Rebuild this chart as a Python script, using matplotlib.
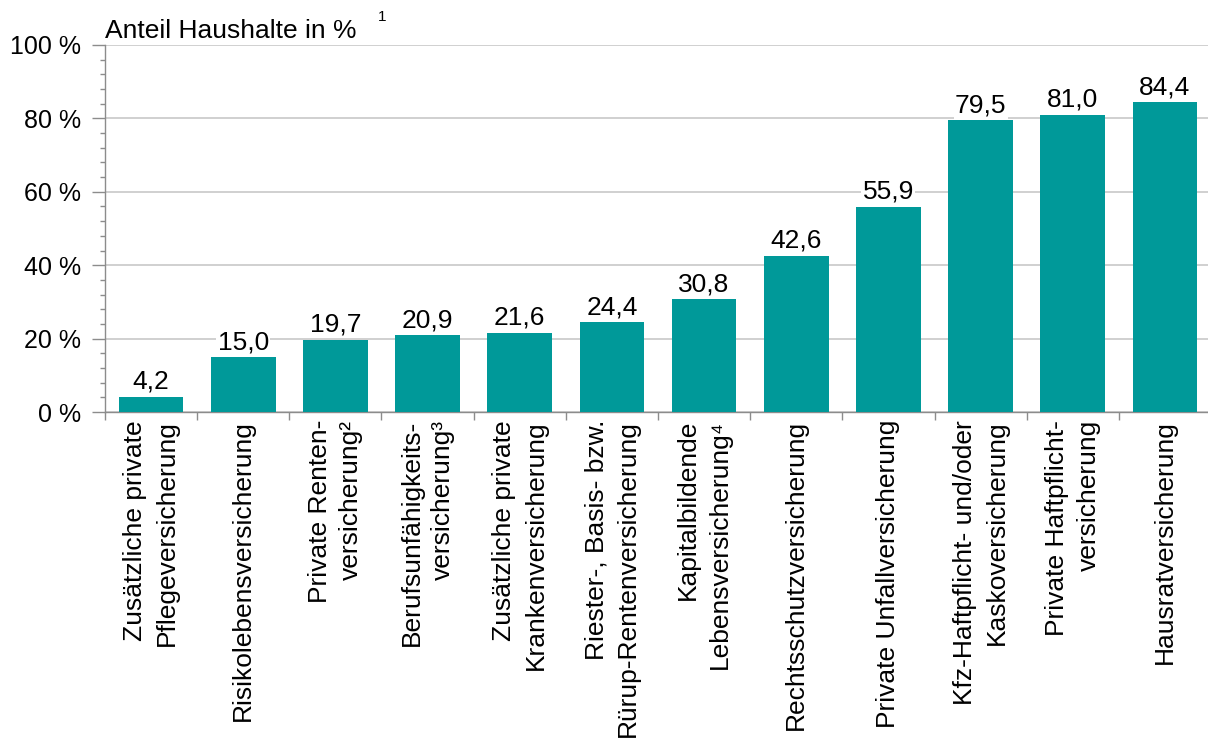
import matplotlib
matplotlib.use("Agg")
import matplotlib.pyplot as plt
from matplotlib.ticker import MultipleLocator, FuncFormatter

plt.rcParams['font.family'] = ['Liberation Sans', 'DejaVu Sans']

categories = [
    "Zusätzliche private\nPflegeversicherung",
    "Risikolebensversicherung",
    "Private Renten-\nversicherung²",
    "Berufsunfähigkeits-\nversicherung³",
    "Zusätzliche private\nKrankenversicherung",
    "Riester-, Basis- bzw.\nRürup-Rentenversicherung",
    "Kapitalbildende\nLebensversicherung⁴",
    "Rechtsschutzversicherung",
    "Private Unfallversicherung",
    "Kfz-Haftpflicht- und/oder\nKaskoversicherung",
    "Private Haftpflicht-\nversicherung",
    "Hausratversicherung",
]
values = [4.2, 15.0, 19.7, 20.9, 21.6, 24.4, 30.8, 42.6, 55.9, 79.5, 81.0, 84.4]
yticks = [0, 20, 40, 60, 80, 100]

BAR = '#009999'
GRID = '#c8c8c8'
AX = '#8c8c8c'
FS = 19

W, H = 1208, 745
fig = plt.figure(figsize=(W / 100, H / 100), dpi=100)
ax = fig.add_axes([105 / W, (H - 412) / H, (1211 - 105) / W, (412 - 45) / H])

x = list(range(len(values)))
ax.bar(x, values, width=0.70, color=BAR, zorder=3)
ax.set_xlim(-0.5, len(values) - 0.5)
ax.set_ylim(0, 100)

ax.set_yticks(yticks)
ax.yaxis.set_minor_locator(MultipleLocator(4))
ax.yaxis.set_major_formatter(FuncFormatter(lambda v, p: f"{int(v)} %"))
ax.tick_params(axis='y', which='major', length=9.5, width=1, color=AX,
               labelsize=18, pad=8)
ax.tick_params(axis='y', which='minor', length=3.6, width=1, color=AX)
ax.grid(axis='y', which='major', color=GRID, linewidth=1.2, zorder=0)

# category boundary ticks
ax.set_xticks([i - 0.5 for i in range(len(values) + 1)])
ax.set_xticklabels([])
ax.tick_params(axis='x', which='major', length=6, width=1, color=AX)
for i, c in enumerate(categories):
    ax.text(i, -2.2, c, rotation=90, ha='center', va='top', fontsize=FS,
            multialignment='right', linespacing=1.4, transform=ax.transData,
            clip_on=False)

for s in ['top', 'right']:
    ax.spines[s].set_visible(False)
for s in ['left', 'bottom']:
    ax.spines[s].set_color(AX)
    ax.spines[s].set_linewidth(1)

for xi, v in zip(x, values):
    ax.text(xi, v + 0.8, f"{v:.1f}".replace('.', ','), ha='center', va='bottom',
            fontsize=FS, zorder=4,
            bbox=dict(facecolor='white', edgecolor='none', pad=1.0))

fig.text(105 / W, 1 - 31 / H, "Anteil Haushalte in %", ha='left', va='center',
         fontsize=FS)
fig.text(378 / W, 1 - 17 / H, "1", ha='left', va='center', fontsize=11)

fig.savefig("out.png", dpi=100, facecolor='white')
